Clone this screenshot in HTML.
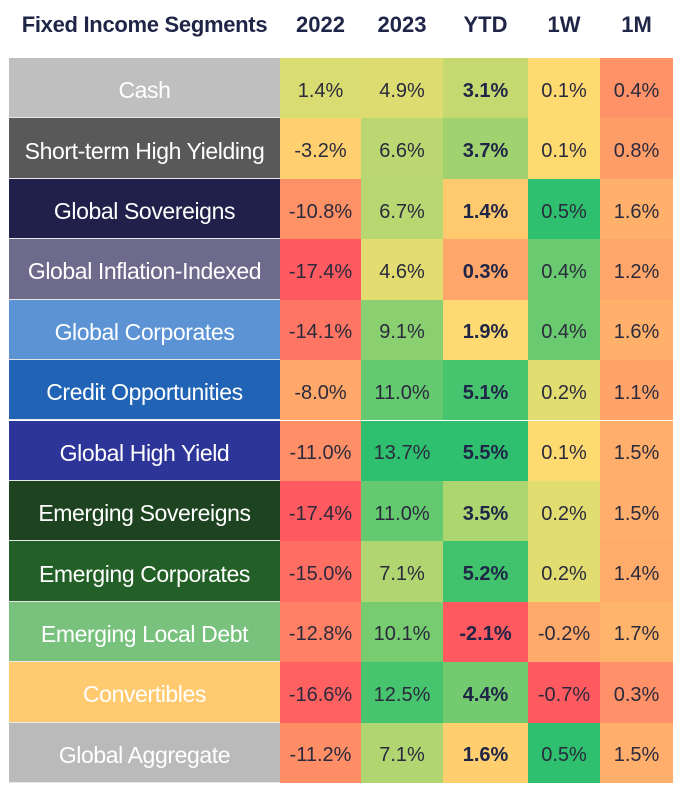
<!DOCTYPE html>
<html><head><meta charset="utf-8"><style>
body{margin:0;background:#fff;width:682px;height:785px;overflow:hidden;font-family:"Liberation Sans",sans-serif;}
#wrap{position:relative;width:682px;height:785px;}
.h{position:absolute;top:8px;height:34px;line-height:34px;font-weight:bold;font-size:22px;color:#1f2547;text-align:center;white-space:nowrap;}
.lab{position:absolute;left:9px;width:271px;color:#fff;font-size:23px;text-align:center;display:flex;align-items:center;justify-content:center;box-sizing:border-box;padding-top:6px;border-bottom:1px solid #e8e8e8;white-space:nowrap;letter-spacing:-0.4px}
.c{position:absolute;font-size:20px;color:#2a2a3c;display:flex;align-items:center;justify-content:center;box-sizing:border-box;padding-top:6px;}
.b{font-weight:bold;color:#1f2547}
</style></head><body>
<div id="wrap">
<div class="h" style="left:9px;width:271px;letter-spacing:-0.3px">Fixed Income Segments</div>
</div>
<script>
const segments=["Cash","Short-term High Yielding","Global Sovereigns","Global Inflation-Indexed","Global Corporates","Credit Opportunities","Global High Yield","Emerging Sovereigns","Emerging Corporates","Emerging Local Debt","Convertibles","Global Aggregate"];
const columns=["2022","2023","YTD","1W","1M"];
const v2022=[1.4,-3.2,-10.8,-17.4,-14.1,-8.0,-11.0,-17.4,-15.0,-12.8,-16.6,-11.2];
const v2023=[4.9,6.6,6.7,4.6,9.1,11.0,13.7,11.0,7.1,10.1,12.5,7.1];
const vYTD=[3.1,3.7,1.4,0.3,1.9,5.1,5.5,3.5,5.2,-2.1,4.4,1.6];
const v1W=[0.1,0.1,0.5,0.4,0.4,0.2,0.1,0.2,0.2,-0.2,-0.7,0.5];
const v1M=[0.4,0.8,1.6,1.2,1.6,1.1,1.5,1.5,1.4,1.7,0.3,1.5];
const series=[v2022,v2023,vYTD,v1W,v1M];
const labelColors=["#bfbfbf","#595959","#20204a","#6e6a8c","#5b93d4","#2164b6","#2e3599","#1e4320","#236027","#78c27e","#ffca70","#bababa"];
const colX=[280,361,443,528,600,673];
const domains=[[-17.4,-1,12],[-2,3.2,13.7],[-2.1,2.2,5.5],[-0.7,0.15,0.5],[-1.8,3.5,6]];
const RED=[255,90,95],YEL=[255,226,114],GRN=[46,192,110];
function mix(a,b,t){t=Math.max(0,Math.min(1,t));return 'rgb('+a.map((x,i)=>Math.round(x+(b[i]-x)*t)).join(',')+')';}
function color(v,d){return v<=d[1]?mix(RED,YEL,(v-d[0])/(d[1]-d[0])):mix(YEL,GRN,(v-d[1])/(d[2]-d[1]));}
const top0=58,rowH=(783-58)/12;
const wrap=document.getElementById('wrap');
columns.forEach((c,j)=>{
  const h=document.createElement('div');h.className='h';
  
  
  h.style.left=colX[j]+'px';h.style.width=(colX[j+1]-colX[j])+'px';h.textContent=c;wrap.appendChild(h);
});
segments.forEach((s,i)=>{
  const y=top0+i*rowH;
  const l=document.createElement('div');l.className='lab';
  
  
  l.style.top=y+'px';l.style.height=rowH+'px';l.style.background=labelColors[i];l.textContent=s;wrap.appendChild(l);
  series.forEach((arr,j)=>{
    const c=document.createElement('div');c.className='c'+(j==2?' b':'');
    
    
    c.style.left=colX[j]+'px';c.style.width=(colX[j+1]-colX[j])+'px';
    c.style.top=y+'px';c.style.height=rowH+'px';
    c.style.background=color(arr[i],domains[j]);
    c.textContent=arr[i].toFixed(1)+'%';wrap.appendChild(c);
  });
});
</script>
</body></html>
